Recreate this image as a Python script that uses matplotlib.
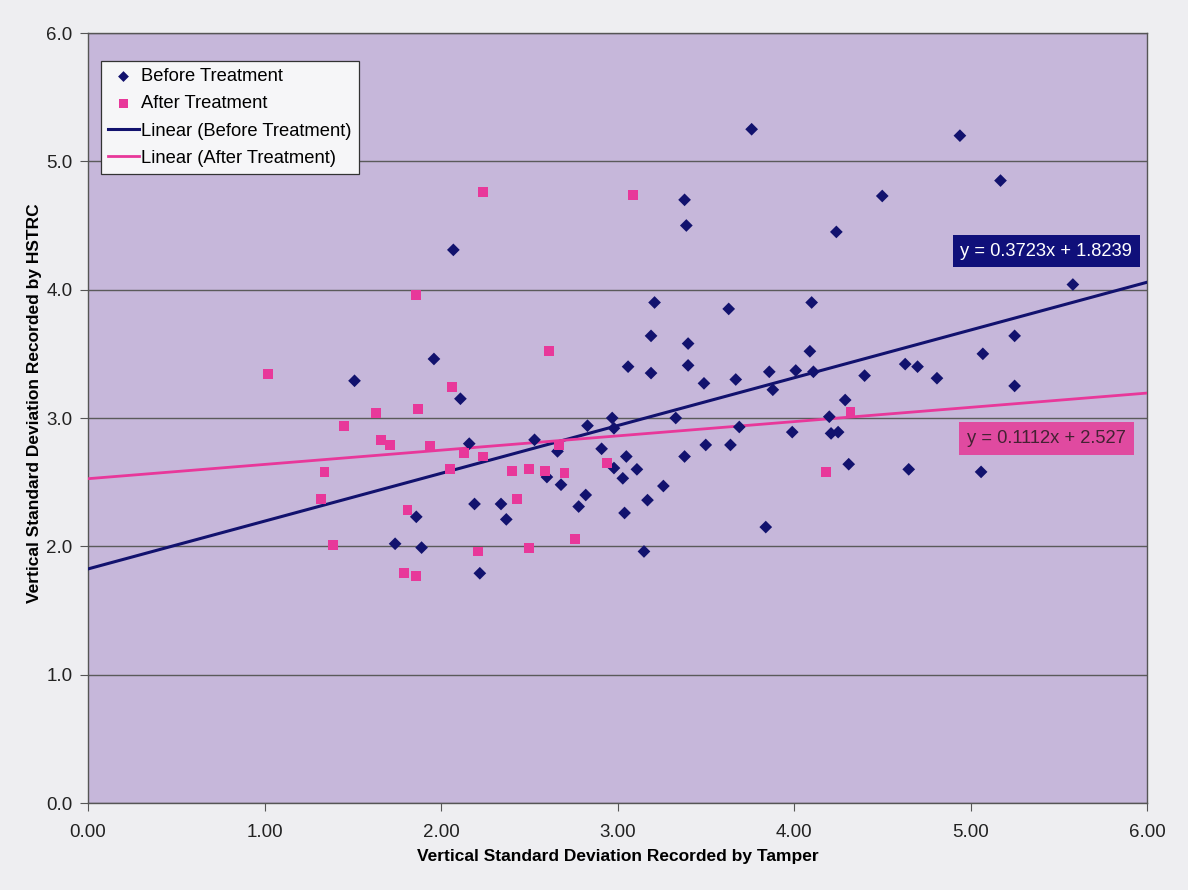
import matplotlib
matplotlib.use("Agg")
import matplotlib.pyplot as plt
import numpy as np

plt.rcParams['font.family'] = ['Liberation Sans', 'DejaVu Sans']

# Before Treatment (tamper, HSTRC)
before_x = [4.94, 3.76, 5.17, 4.50, 3.38, 3.39, 4.24, 2.07, 5.58, 3.21,
            3.63, 4.10, 3.19, 3.40, 4.09, 5.25, 5.07, 3.06, 3.19, 3.40,
            4.01, 3.86, 4.11, 3.49, 3.67, 3.88, 4.63, 4.70, 4.40, 4.81,
            5.25, 4.29, 1.96, 1.51, 2.11, 4.20, 2.97, 3.33, 2.83, 2.98,
            3.69, 3.99, 4.21, 4.25, 2.16, 2.53, 2.66, 2.91, 3.50, 3.64,
            3.38, 3.05, 4.31, 4.65, 5.06, 2.98, 3.11, 2.60, 3.03, 2.68,
            3.26, 2.19, 2.34, 2.82, 2.78, 3.17, 1.86, 2.37, 3.04, 3.84,
            1.74, 1.89, 3.15, 2.22]
before_y = [5.20, 5.25, 4.85, 4.73, 4.70, 4.50, 4.45, 4.31, 4.04, 3.90,
            3.85, 3.90, 3.64, 3.58, 3.52, 3.64, 3.50, 3.40, 3.35, 3.41,
            3.37, 3.36, 3.36, 3.27, 3.30, 3.22, 3.42, 3.40, 3.33, 3.31,
            3.25, 3.14, 3.46, 3.29, 3.15, 3.01, 3.00, 3.00, 2.94, 2.92,
            2.93, 2.89, 2.88, 2.89, 2.80, 2.83, 2.74, 2.76, 2.79, 2.79,
            2.70, 2.70, 2.64, 2.60, 2.58, 2.61, 2.60, 2.54, 2.53, 2.48,
            2.47, 2.33, 2.33, 2.40, 2.31, 2.36, 2.23, 2.21, 2.26, 2.15,
            2.02, 1.99, 1.96, 1.79]

# After Treatment
after_x = [2.24, 3.09, 1.86, 2.61, 1.02, 2.06, 1.63, 1.87, 1.45, 1.66,
           1.71, 1.94, 2.13, 2.24, 2.67, 4.32, 2.94, 4.18, 2.40, 2.50,
           2.59, 2.70, 1.34, 2.05, 2.43, 1.32, 1.81, 2.76, 1.39, 2.21,
           2.50, 1.79, 1.86]
after_y = [4.76, 4.74, 3.96, 3.52, 3.34, 3.24, 3.04, 3.07, 2.94, 2.83,
           2.79, 2.78, 2.73, 2.70, 2.79, 3.05, 2.65, 2.58, 2.59, 2.60,
           2.59, 2.57, 2.58, 2.60, 2.37, 2.37, 2.28, 2.06, 2.01, 1.96,
           1.99, 1.79, 1.77]

# Linear trend coefficients (as printed on chart)
before_slope, before_icpt = 0.3723, 1.8239
after_slope, after_icpt = 0.1112, 2.527

x_ticks = [0, 1, 2, 3, 4, 5, 6]
y_ticks = [0, 1, 2, 3, 4, 5, 6]

NAVY = '#12126e'
PINK = '#e8389a'
BG = '#c6b7da'

fig = plt.figure(figsize=(11.88, 8.90), dpi=100, facecolor='#eeeef1')
ax = fig.add_axes([88/1188, 1-803/890, (1147-88)/1188, (803-33)/890])
ax.set_facecolor(BG)

ax.set_xlim(0, 6)
ax.set_ylim(0, 6)
ax.set_yticks(y_ticks)
ax.set_xticks(x_ticks)
ax.set_yticklabels([f"{v:.1f}" for v in y_ticks], fontsize=13.5, color='#222222')
ax.set_xticklabels([f"{v:.2f}" for v in x_ticks], fontsize=13.5, color='#222222')
ax.tick_params(axis='both', direction='out', length=6, width=0.8, color='#555555')
ax.tick_params(axis='x', pad=9)
ax.tick_params(axis='y', pad=5)
ax.grid(axis='y', color='#5a5a5a', linewidth=1.0)
ax.set_axisbelow(True)
for s in ax.spines.values():
    s.set_color('#555555')
    s.set_linewidth(1.0)

tx = np.array([0.0, 6.0])
ax.plot(tx, before_slope * tx + before_icpt, color=NAVY, lw=2.2, zorder=3,
        label='Linear (Before Treatment)')
ax.plot(tx, after_slope * tx + after_icpt, color=PINK, lw=2.0, zorder=3,
        label='Linear (After Treatment)')
ax.scatter(before_x, before_y, marker='D', s=42, color=NAVY, zorder=4,
           label='Before Treatment', edgecolors='none')
ax.scatter(after_x, after_y, marker='s', s=50, color=PINK, zorder=4,
           label='After Treatment', edgecolors='none')

h, l = ax.get_legend_handles_labels()
order = [2, 3, 0, 1]
leg = ax.legend([h[i] for i in order], [l[i] for i in order],
                loc='upper left', bbox_to_anchor=(0.0123, 0.9636),
                fontsize=13.2, frameon=True, fancybox=False,
                handlelength=1.65, handletextpad=0.15, borderpad=0.4,
                labelspacing=0.55, markerscale=0.85, borderaxespad=0.0)
leg.get_frame().set_facecolor('#f6f6f8')
leg.get_frame().set_edgecolor('#333333')
leg.get_frame().set_alpha(1)
leg.get_frame().set_linewidth(0.9)

ax.text(5.916, 4.30, 'y = 0.3723x + 1.8239', fontsize=13.2, color='white',
        ha='right', va='center', zorder=6,
        bbox=dict(boxstyle='square,pad=0.42', facecolor='#10107a', edgecolor='none'))
ax.text(5.88, 2.84, 'y = 0.1112x + 2.527', fontsize=13.2, color='#442233',
        ha='right', va='center', zorder=6,
        bbox=dict(boxstyle='square,pad=0.42', facecolor='#e04aa0', edgecolor='none'))

ax.set_xlabel('Vertical Standard Deviation Recorded by Tamper', fontsize=12.5,
              fontweight='bold', labelpad=6)
ax.set_ylabel('Vertical Standard Deviation Recorded by HSTRC', fontsize=12.5,
              fontweight='bold')
ax.yaxis.set_label_coords(-0.043, 0.519)

fig.savefig('out.png', dpi=100, facecolor=fig.get_facecolor())
